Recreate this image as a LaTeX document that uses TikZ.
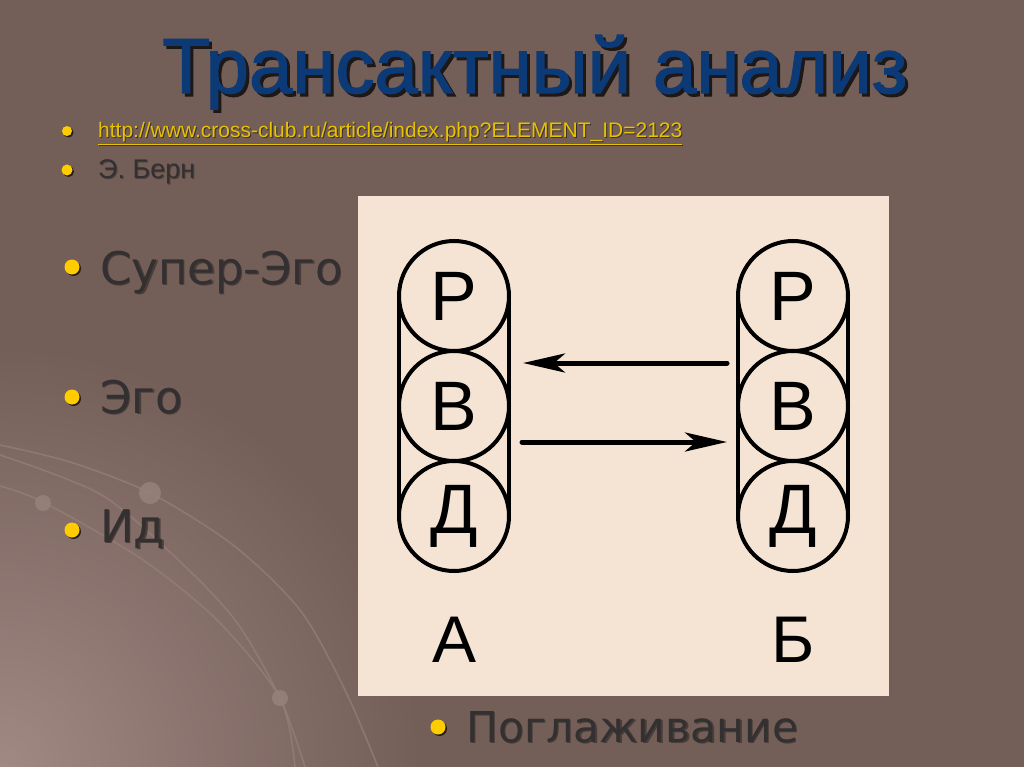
\documentclass[tikz,border=0pt]{standalone}
\usepackage{fontspec}
\setmainfont{Liberation Sans}
\newfontfamily\gothic{DejaVu Sans}
\newfontfamily\titlefont[FakeBold=1.6]{Liberation Sans}
\usetikzlibrary{arrows.meta,calc,shadows}
\definecolor{bg}{RGB}{116,94,88}
\definecolor{bglight}{RGB}{160,136,131}
\definecolor{panelc}{RGB}{245,228,212}
\definecolor{titleblue}{RGB}{12,58,118}
\definecolor{txtgray}{RGB}{50,48,48}
\definecolor{bulletyellow}{RGB}{255,204,0}
\definecolor{urlyellow}{RGB}{232,194,0}
\definecolor{arcc}{RGB}{150,128,122}
% text with a drop shadow, in one box
\newcommand{\shtxt}[3]{\makebox[0pt][l]{\hspace*{#1}\raisebox{-#1}{\textcolor{#2}{#3}}}#3}
\tikzset{
  bdot/.style={circle, fill=bulletyellow, inner sep=0pt, minimum size=#1,
    drop shadow={shadow xshift=1.5pt, shadow yshift=-1.5pt, opacity=0.7, fill=black}},
  bigtxt/.style={anchor=base west, inner sep=0pt, text=txtgray, font=\gothic\fontsize{#1}{50}\selectfont},
  smalltxt/.style={anchor=base west, inner sep=0pt, font=\fontsize{#1}{#1}\selectfont},
  egocirc/.style={circle, draw=black, line width=4pt, minimum size=110pt, inner sep=0pt, outer sep=0pt,
    font=\fontsize{70}{80}\selectfont},
  caps/.style={line width=4pt, draw=black},
  arr/.style={line width=5pt, draw=black, line cap=round, -{Stealth[length=42pt, width=19pt, inset=11pt]}},
  lbl/.style={inner sep=0pt, font=\fontsize{66}{70}\selectfont},
  arcline/.style={draw=arcc, line width=1.6pt, opacity=0.7},
  arcdot/.style={circle, inner sep=0pt, minimum size=#1, fill=arcc, opacity=0.9}
}
\begin{document}
\begin{tikzpicture}[x=1pt,y=-1pt]
\useasboundingbox (0,0) rectangle (1024,767);
\fill[bg] (0,0) rectangle (1024,767);
\begin{scope}
  \clip (0,0) rectangle (1024,767);
  \shade[inner color=bglight, outer color=bg] (0,767) circle (420);
\end{scope}
% decorative arcs
\draw[arcline] plot[smooth] coordinates {(0,445) (70,462) (150,493) (233,545) (300,610) (345,690) (378,767)};
\draw[arcline] plot[smooth] coordinates {(0,455) (100,494) (173,555) (235,620) (280,698) (305,767)};
\draw[arcline] plot[smooth] coordinates {(0,486) (43,502) (140,558) (217,620) (280,698) (295,767)};
\node[arcdot=22pt] (d1) at (150,493) {};
\node[arcdot=16pt] (d2) at (43,503) {};
\node[arcdot=16pt] (d3) at (280,698) {};
% title
\node[anchor=base, inner sep=0pt, text=titleblue, font=\titlefont\fontsize{78}{90}\selectfont] (title) at (535,93)
  {\shtxt{3pt}{bg!25!black}{Трансактный анализ}};
% small bullets
\node[bdot=10pt] (b1) at (67,131) {};
\node[smalltxt=21, text=urlyellow] (url) at (98,138)
  {\shtxt{1pt}{bg!50!black}{\underline{http://www.cross-club.ru/article/index.php?ELEMENT\_ID=2123}}};
\node[bdot=11pt] (b2) at (67,170) {};
\node[smalltxt=27, text=txtgray] (bern) at (98,179) {\shtxt{1pt}{bg!70!black}{Э. Берн}};
% big bullets
\node[bdot=15pt] (b3) at (72,267) {};
\node[bigtxt=45] (t3) at (100,284) {\shtxt{1.5pt}{bg!65!black}{Супер-Эго}};
\node[bdot=15pt] (b4) at (72,397) {};
\node[bigtxt=45] (t4) at (100,413) {\shtxt{1.5pt}{bg!65!black}{Эго}};
\node[bdot=15pt] (b5) at (72,530) {};
\node[bigtxt=45] (t5) at (100,542) {\shtxt{1.5pt}{bg!65!black}{Ид}};
% panel
\fill[panelc] (358,196) rectangle (889,696);
\node[egocirc] (aP) at (454,296) {Р};
\node[egocirc] (aB) at (454,406) {В};
\node[egocirc] (aD) at (454,516) {Д};
\node[egocirc] (bP) at (793,296) {Р};
\node[egocirc] (bB) at (793,406) {В};
\node[egocirc] (bD) at (793,516) {Д};
\draw[caps] (aP.west) -- (aD.west);
\draw[caps] (aP.east) -- (aD.east);
\draw[caps] (bP.west) -- (bD.west);
\draw[caps] (bP.east) -- (bD.east);
\coordinate (r1) at ($(bB.west)+(-11,-43)$);
\coordinate (l1) at ($(aB.east)+(14,-43)$);
\coordinate (l2) at ($(aB.east)+(13,36)$);
\coordinate (r2) at ($(bB.west)+(-11,36)$);
\draw[arr] (r1) -- (l1);
\draw[arr] (l2) -- (r2);
\node[lbl] (labA) at (455,640) {А};
\node[lbl] (labB) at (793,640) {Б};
% bottom bullet
\node[bdot=15pt] (b6) at (438,727) {};
\node[bigtxt=42.5] (t6) at (466,742) {\shtxt{1.5pt}{bg!65!black}{Поглаживание}};
\end{tikzpicture}
\end{document}
